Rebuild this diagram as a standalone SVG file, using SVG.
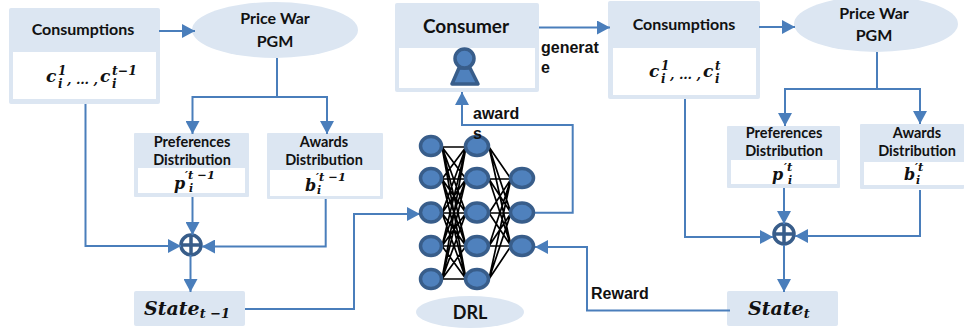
<svg xmlns="http://www.w3.org/2000/svg" width="964" height="330" viewBox="0 0 964 330">
<style>
.box{fill:#DCE6F2}
.in{fill:#fff}
.t{font-family:Lato,"Open Sans",sans-serif;font-weight:700;fill:#111;text-anchor:middle}
.h{font-size:16px}
.p{font-size:16px}
.s{font-size:14.500px}
.a{font-family:"Liberation Sans",Arial,sans-serif;font-weight:700;font-size:16px;fill:#111}
.m{font-family:"DejaVu Serif",serif;font-weight:700;font-style:italic;fill:#111}
.c{fill:none;stroke:#4A7EBB;stroke-width:2}
.n{fill:#4F81BD;stroke:#385D8A;stroke-width:3.5}
.e{stroke:#000;stroke-width:1.7;fill:none}
.o{fill:none;stroke:#385D8A;stroke-width:3.5}
</style>
<defs>
<marker id="arr" markerUnits="userSpaceOnUse" markerWidth="13" markerHeight="14" refX="13" refY="7" orient="auto"><path d="M0 0L13 7L0 14Z" fill="#4A7EBB"/></marker>
</defs>
<g id="node-consumptions-left">
<rect class="box" x="9" y="8" width="151" height="96" rx="2"/><rect class="in" x="13" y="52" width="143" height="47"/>
<text class="t h" x="83" y="35">Consumptions</text>
<text class="m" font-size="17" x="46" y="82">c<tspan font-size="12" x="58" y="75">1</tspan><tspan font-size="12" x="58" y="88">i</tspan><tspan font-size="13" x="67" y="84">, … ,</tspan><tspan font-size="17" x="100" y="82">c</tspan><tspan font-size="12.500" x="112" y="75">t−1</tspan><tspan font-size="12" x="112" y="88">i</tspan></text>
</g>
<g id="node-pgm-left">
<ellipse class="box" cx="275" cy="30" rx="83" ry="28"/>
<text class="t p" x="275" y="24">Price War</text><text class="t p" x="275" y="47">PGM</text>
</g>
<g id="node-pref-left">
<rect class="box" x="134" y="133" width="115" height="64" rx="1"/><rect class="in" x="138" y="168" width="107" height="25"/>
<text class="t s" x="192" y="147">Preferences</text><text class="t s" x="192" y="165">Distribution</text>
<text class="m" font-size="16" x="174" y="189">p<tspan font-size="11.500" x="185" y="179">′t −1</tspan><tspan font-size="11" x="189" y="192">i</tspan></text>
</g>
<g id="node-awards-left">
<rect class="box" x="267" y="133" width="116" height="66" rx="1"/><rect class="in" x="270" y="170" width="110" height="26"/>
<text class="t s" x="324" y="147">Awards</text><text class="t s" x="324" y="165">Distribution</text>
<text class="m" font-size="16" x="305" y="191">b<tspan font-size="11.500" x="316" y="181">′t −1</tspan><tspan font-size="11" x="317" y="194">i</tspan></text>
</g>
<g id="node-sum-left"><circle class="o" cx="191" cy="245" r="10"/><path class="o" stroke-width="3" d="M181 245H201M191 235V255"/></g>
<g id="node-state-left">
<rect class="box" x="134" y="291" width="111" height="35" rx="2"/>
<text class="m" font-size="19" x="144" y="315">State<tspan font-size="13" dy="3">t −1</tspan></text>
</g>
<g id="node-consumer">
<rect class="box" x="395" y="3" width="144" height="89" rx="2"/><rect class="in" x="399" y="48" width="136" height="40"/>
<text class="t" font-size="19" x="466" y="33">Consumer</text>
<path fill="#4F81BD" stroke="#385D8A" stroke-width="3.5" stroke-linejoin="round" d="M459 68H470L478 84H452Z"/>
<circle fill="#4F81BD" stroke="#385D8A" stroke-width="3.5" cx="464.500" cy="58.500" r="9.500"/>
</g>
<g id="node-consumptions-right">
<rect class="box" x="608" y="1" width="152" height="98" rx="2"/><rect class="in" x="613" y="48" width="143" height="47"/>
<text class="t h" x="684" y="30">Consumptions</text>
<text class="m" font-size="17" x="649" y="77">c<tspan font-size="12" x="661" y="70">1</tspan><tspan font-size="12" x="661" y="83">i</tspan><tspan font-size="13" x="670" y="79">, … ,</tspan><tspan font-size="17" x="703" y="77">c</tspan><tspan font-size="12" x="715" y="70">t</tspan><tspan font-size="12" x="715" y="83">i</tspan></text>
</g>
<g id="node-pgm-right">
<ellipse class="box" cx="876" cy="24" rx="82" ry="28"/>
<text class="t p" x="874" y="19">Price War</text><text class="t p" x="874" y="41">PGM</text>
</g>
<g id="node-pref-right">
<rect class="box" x="727" y="126" width="113" height="62" rx="1"/><rect class="in" x="731" y="160" width="106" height="24"/>
<text class="t s" x="784" y="138">Preferences</text><text class="t s" x="784" y="156">Distribution</text>
<text class="m" font-size="16" x="772" y="180">p<tspan font-size="11.500" x="784" y="171">′t</tspan><tspan font-size="11" x="788" y="184">i</tspan></text>
</g>
<g id="node-awards-right">
<rect class="box" x="860" y="124" width="104" height="65" rx="1"/><rect class="in" x="864" y="162" width="100" height="23"/>
<text class="t s" x="917" y="138">Awards</text><text class="t s" x="917" y="156">Distribution</text>
<text class="m" font-size="16" x="904" y="180">b<tspan font-size="11.500" x="915" y="171">′t</tspan><tspan font-size="11" x="916" y="184">i</tspan></text>
</g>
<g id="node-sum-right"><circle class="o" cx="784" cy="234" r="10"/><path class="o" stroke-width="3" d="M774 234H794M784 224V244"/></g>
<g id="node-state-right">
<rect class="box" x="727" y="291" width="111" height="35" rx="2"/>
<text class="m" font-size="19" x="748" y="315">State<tspan font-size="13" dy="3">t</tspan></text>
</g>
<g id="node-drl-label">
<ellipse class="box" cx="470" cy="312" rx="54" ry="16"/>
<text class="t" font-size="18" x="470" y="319">DRL</text>
</g>
<g id="connectors">
<path class="c" marker-end="url(#arr)" d="M159 31H195"/>
<path class="c" d="M277 58V97"/>
<path class="c" marker-end="url(#arr)" d="M277 97H192.500V134"/>
<path class="c" marker-end="url(#arr)" d="M277 97H327V134"/>
<path class="c" marker-end="url(#arr)" d="M85.500 104V246H181"/>
<path class="c" marker-end="url(#arr)" d="M192.500 197V235"/>
<path class="c" marker-end="url(#arr)" d="M325.700 199V246.500H202"/>
<path class="c" marker-end="url(#arr)" d="M190.500 255V292"/>
<path class="c" marker-end="url(#arr)" d="M245 309H354V214H420"/>
<path class="c" marker-end="url(#arr)" d="M539 27.500H610"/>
<path class="c" marker-end="url(#arr)" d="M533 212.700H572.700V125H462V92"/>
<path class="c" marker-end="url(#arr)" d="M759 27H795"/>
<path class="c" d="M877 52V89"/>
<path class="c" marker-end="url(#arr)" d="M877 89H785V126"/>
<path class="c" marker-end="url(#arr)" d="M877 89H920V124"/>
<path class="c" marker-end="url(#arr)" d="M685 99V237H773"/>
<path class="c" marker-end="url(#arr)" d="M784 188V224"/>
<path class="c" marker-end="url(#arr)" d="M920 190V236H795"/>
<path class="c" marker-end="url(#arr)" d="M784 245V292"/>
<path class="c" marker-end="url(#arr)" d="M730 310.500H587V247H535"/>
</g>
<g id="node-network">
<path class="e" d="M442 147L466 147M442 147L466 179M442 147L466 213M442 147L466 246M442 147L466 279M442 179L466 147M442 179L466 179M442 179L466 213M442 179L466 246M442 179L466 279M442 213L466 147M442 213L466 179M442 213L466 213M442 213L466 246M442 213L466 279M442 246L466 147M442 246L466 179M442 246L466 213M442 246L466 246M442 246L466 279M442 279L466 147M442 279L466 179M442 279L466 213M442 279L466 246M442 279L466 279"/>
<path class="e" d="M489 147L511 179M489 147L511 213M489 147L511 246M489 179L511 179M489 179L511 213M489 179L511 246M489 213L511 179M489 213L511 213M489 213L511 246M489 246L511 179M489 246L511 213M489 246L511 246M489 279L511 179M489 279L511 213M489 279L511 246"/>
<g class="n">
<ellipse cx="431" cy="146" rx="10.500" ry="9.500"/><ellipse cx="431" cy="178" rx="10.500" ry="9.500"/><ellipse cx="431" cy="212.500" rx="10.500" ry="9.500"/><ellipse cx="431" cy="246" rx="10.500" ry="9.500"/><ellipse cx="431" cy="279" rx="10.500" ry="9.500"/>
<ellipse cx="477" cy="146" rx="11.500" ry="9.500"/><ellipse cx="477" cy="178" rx="11.500" ry="9.500"/><ellipse cx="477" cy="212.500" rx="11.500" ry="9.500"/><ellipse cx="477" cy="246" rx="11.500" ry="9.500"/><ellipse cx="477" cy="279" rx="11.500" ry="9.500"/>
<ellipse cx="522" cy="178" rx="11.500" ry="9.500"/><ellipse cx="522" cy="212.500" rx="11.500" ry="9.500"/><ellipse cx="522" cy="246" rx="11.500" ry="9.500"/>
</g>
</g>
<g id="labels">
<text class="a" x="541" y="53">generat</text><text class="a" x="541" y="73">e</text>
<text class="a" x="473" y="119">award</text><text class="a" x="473" y="139">s</text>
<text class="a" x="591" y="299">Reward</text>
</g>
</svg>
